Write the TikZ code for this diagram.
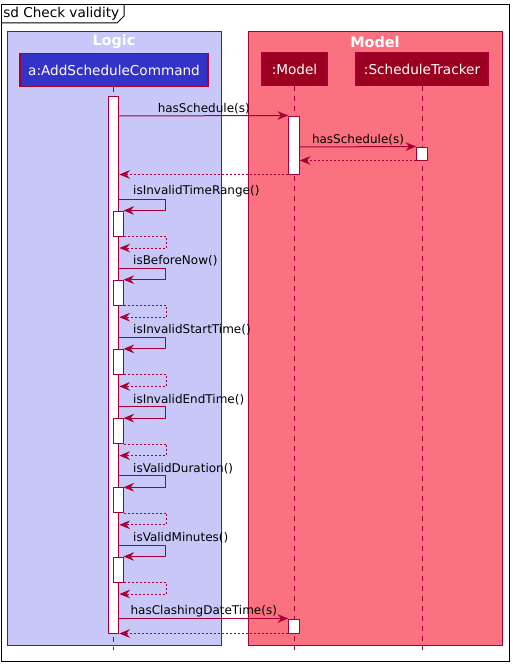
\documentclass[tikz,border=0pt]{standalone}
\usepackage{fontspec}
\setmainfont{DejaVu Sans}
\usetikzlibrary{positioning, arrows.meta}
\definecolor{seqline}{RGB}{168,0,54}
\definecolor{logicbg}{RGB}{200,200,248}
\definecolor{modelbg}{RGB}{250,113,128}
\definecolor{logichead}{RGB}{51,51,200}
\definecolor{modelhead}{RGB}{155,0,32}

\begin{document}
\begin{tikzpicture}[x=0.75pt, y=-0.75pt,
        group/.style={draw=seqline, line width=0.75pt},
        grouptitle/.style={text=white, inner sep=0pt, font=\bfseries\fontsize{10.8}{12}\selectfont},
        actor/.style={draw=seqline, line width=0.9pt, text=white, minimum height=24.5pt, inner sep=0pt, font=\fontsize{10.2}{12}\selectfont},
        life/.style={draw=seqline, line width=0.6pt, dash pattern=on 3.75pt off 3.75pt},
        act/.style={draw=seqline, fill=white, line width=0.75pt, minimum width=8pt, inner sep=0pt},
        call/.style={-{Stealth[length=8pt, width=6.5pt, inset=2.7pt]}, draw=seqline, line width=0.75pt},
        reply/.style={call, dash pattern=on 1.5pt off 1.5pt},
        msg/.style={font=\fontsize{9}{11}\selectfont, inner sep=1pt}
    ]
    \useasboundingbox (0,0) rectangle (513,667);

    % frame
    \draw[line width=0.75pt] (1,5) rectangle (509,661);
    \draw[line width=0.75pt] (1,23) -- (117,23) -- (124,16) -- (124,5);
    \node[anchor=west, inner sep=0pt, font=\fontsize{10.2}{12}\selectfont] (frametitle) at (3,14) {sd Check validity};

    % boxes
    \draw[group, fill=logicbg] (7,32) rectangle (221,645);
    \draw[group, fill=modelbg] (248,32) rectangle (502,645);
    \node[grouptitle] (logictitle) at (114,42) {Logic};
    \node[grouptitle] (modeltitle) at (375,42) {Model};

    % participants
    \node[actor, fill=logichead, minimum width=141pt] (cmd) at (114,70) {a:AddScheduleCommand};
    \node[actor, fill=modelhead, minimum width=48.75pt] (model) at (294.5,69) {:Model};
    \node[actor, fill=modelhead, minimum width=99pt] (tracker) at (422,69) {:ScheduleTracker};

    \draw[life] (cmd.south -| 113.5,0) -- (113.5,650);
    \draw[life] (model.south) -- (model.south |- 0,650);
    \draw[life] (tracker.south) -- (tracker.south |- 0,650);

    % activations
    \node[act, minimum height=402.75pt] (cmdact) at (113.5,364.5) {};
    \node[act, minimum height=43.5pt] (modelact) at (294,145) {};
    \node[act, minimum height=9.75pt] (trackeract) at (422,153.5) {};
    \node[act, minimum height=10.5pt] (modelclash) at (294,626) {};

    \draw[call] (cmdact.east |- 0,116) -- node[msg, above] {hasSchedule(s)} (modelact.north west);
    \draw[call] (modelact.east |- 0,147) -- node[msg, above] {hasSchedule(s)} (trackeract.north west);
    \draw[reply] (trackeract.south west) -- (modelact.east |- trackeract.south);
    \draw[reply] (modelact.south west) -- (cmdact.east |- modelact.south);

    % self checks
    \foreach \check [count=\k from 0] in {isInvalidTimeRange(), isBeforeNow(), isInvalidStartTime(),
            isInvalidEndTime(), isValidDuration(), isValidMinutes()} {
        \pgfmathsetmacro\ytop{199+69.2*\k}
        \pgfmathsetmacro\ybar{\ytop+24.5}
        \pgfmathsetmacro\yback{\ytop+49}
        \node[act, minimum width=7.5pt, minimum height=18.75pt] (check\k) at (118,\ybar) {};
        \draw[call] (cmdact.east |- 0,\ytop) node[msg, anchor=south west, xshift=9pt] {\check}
            -- ++(46,0) |- (check\k.north east);
        \draw[reply] (check\k.south east) -- ++(43,0) |- (cmdact.east |- 0,\yback);
    }

    \draw[call] (cmdact.east |- modelclash.north) -- node[msg, above] {hasClashingDateTime(s)} (modelclash.north west);
    \draw[reply] (modelclash.south west) -- (cmdact.south east);
\end{tikzpicture}
\end{document}
